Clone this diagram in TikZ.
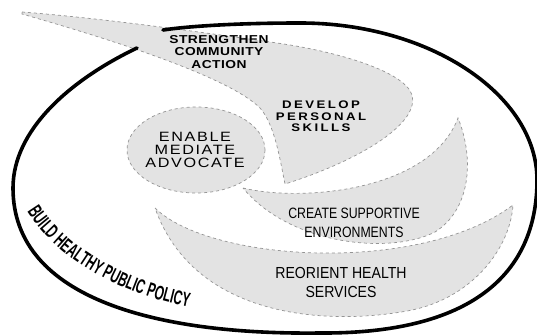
\documentclass[tikz,border=0pt]{standalone}
\usepackage{fontspec}
\setmainfont{Liberation Sans}
\newfontfamily\fnStrength[FakeStretch=1.2,LetterSpace=4]{Liberation Sans}
\newfontfamily\fnDevelop[FakeStretch=1.2,LetterSpace=22]{Liberation Sans}
\newfontfamily\fnEnable[FakeStretch=1.2,LetterSpace=12]{Liberation Sans}
\newfontfamily\fnCreate[FakeStretch=0.82]{Liberation Sans}
\newfontfamily\fnReorient[FakeStretch=0.88]{Liberation Sans}
\newfontfamily\fnPolicy[FakeStretch=0.6]{Liberation Sans}
\usetikzlibrary{decorations.text}

\tikzset{
  area/.style={fill=black!11, draw=black!42, line width=0.7pt,
               dash pattern=on 3pt off 3pt},
  rim/.style={draw=black, line width=3.6pt, line cap=round},
  label/.style={align=center, inner sep=0pt, text=black},
}

\begin{document}
\begin{tikzpicture}[x=1pt, y=-1pt]
  \useasboundingbox (0,0) rectangle (537,336);
  \fill[white] (0,0) rectangle (537,336);
  \begin{scope}
  \clip (0,0) rectangle (537,336);

  % spiral band: community action running into personal skills
  \path[area] (22,12) .. controls (100,18) and (200,32) .. (277,43)
        .. controls (340,52) and (405,72) .. (412,95)
        .. controls (420,125) and (355,162) .. (285,184)
        .. controls (280,160) and (275,125) .. (260,108)
        .. controls (230,78) and (120,42) .. (22,14) -- cycle;

  % central disc
  \path[area] (196,150) ellipse [x radius=69, y radius=43];

  % supportive environments crescent
  \path[area] (243,188) .. controls (300,202) and (430,192) .. (458,118)
        .. controls (475,160) and (470,210) .. (435,232)
        .. controls (390,255) and (290,245) .. (243,188) -- cycle;

  % health services crescent
  \path[area] (155,208) .. controls (210,262) and (420,275) .. (513,205)
        .. controls (510,250) and (470,300) .. (407,311)
        .. controls (330,325) and (195,320) .. (155,208) -- cycle;

  % outer policy ring, open where the band breaks out
  \draw[rim] (137,48) .. controls (70,80) and (13,130) .. (13,188)
        .. controls (13,300) and (160,335) .. (320,333)
        .. controls (470,334) and (537,275) .. (537,180)
        .. controls (537,95) and (430,23) .. (300,23)
        .. controls (240,23) and (190,26) .. (163,30);
  \end{scope}

  % labels
  \node[label, font=\fnStrength\bfseries\fontsize{11.5}{12.5}\selectfont]
    (strengthen) at (219,52) {STRENGTHEN\\COMMUNITY\\ACTION};
  \node[label, font=\fnDevelop\bfseries\fontsize{11}{11.5}\selectfont]
    (develop) at (321,116.5) {DEVELOP\\PERSONAL\\SKILLS};
  \node[label, font=\fnEnable\fontsize{13.5}{13}\selectfont]
    (enable) at (195,150) {ENABLE\\MEDIATE\\ADVOCATE};
  \node[label, font=\fnCreate\fontsize{15}{19}\selectfont]
    (create) at (354,222.5) {CREATE SUPPORTIVE\\ENVIRONMENTS};
  \node[label, font=\fnReorient\fontsize{16}{19}\selectfont]
    (reorient) at (341,282.5) {REORIENT HEALTH\\SERVICES};

  % curved policy caption inside the ring
  \path[decorate, decoration={text along path, text align=center,
        text={|\fnPolicy\bfseries\fontsize{20}{20}\selectfont|BUILD HEALTHY PUBLIC POLICY}}]
    (19,196) .. controls (43,252) and (118,298) .. (206,310);
\end{tikzpicture}
\end{document}
